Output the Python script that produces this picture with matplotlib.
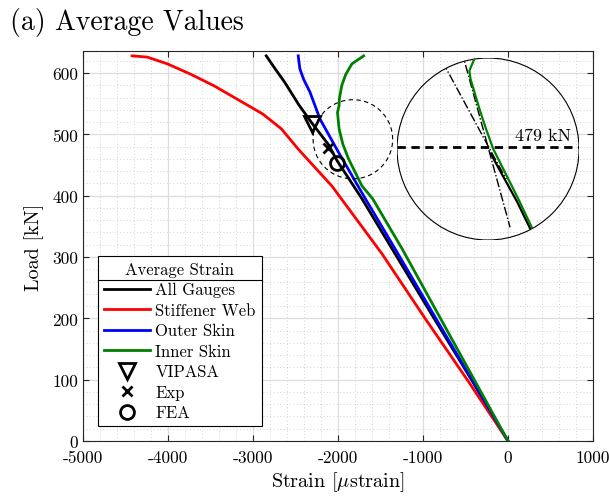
import matplotlib.pyplot as plt
import numpy as np
from matplotlib.patches import Circle, Ellipse
from matplotlib.lines import Line2D
from matplotlib.ticker import MultipleLocator

plt.rcParams.update({
    'font.family': 'serif',
    'font.serif': ['cmr10'],
    'mathtext.fontset': 'cm',
    'axes.unicode_minus': False,
    'axes.formatter.use_mathtext': True,
})

# Data (strain in microstrain, load in kN)
all_strain = [0, -430, -870, -1362, -1718, -2015, -2110, -2310, -2460, -2627, -2740, -2844]
all_load = [0, 100, 200, 313, 395, 458, 483, 519, 548, 585, 607, 628]

web_strain = [0, -470, -971, -1481, -2073, -2271, -2468, -2666, -2883, -2982, -3219,
              -3456, -3732, -4008, -4245, -4423]
web_load = [0, 98, 199, 305, 416, 446, 476, 509, 533, 541, 560, 579, 598, 615, 626, 628]

outer_strain = [0, -650, -1327, -1678, -1995, -2212, -2330, -2405, -2449, -2468]
outer_load = [0, 153, 313, 395, 471, 525, 569, 590, 607, 628]

inner_strain = [0, -620, -1244, -1592, -1718, -1876, -1943, -1987, -2006, -1987, -1984,
                -1955, -1908, -1836, -1698]
inner_load = [0, 156, 313, 395, 416, 460, 484, 509, 536, 547, 558, 580, 598, 615, 628]

vipasa = (-2310, 517)
exp_pt = (-2113, 478)
fea_pt = (-2014, 454)

# zoom circle centre / size on main axes
zoom_centre = (-1825, 492)
zoom_size = (936, 129)

# inset (normalised circle units)
inset_green_u = [-0.151, -0.205, -0.192, -0.143, -0.088, -0.022, 0.058, 0.168, 0.333, 0.498, 0.52]
inset_green_v = [0.989, 0.860, 0.769, 0.604, 0.421, 0.220, 0.0, -0.220, -0.549, -0.898, -0.95]
inset_black_u = [0.03, 0.16, 0.32, 0.48, 0.51]
inset_black_v = [-0.05, -0.29, -0.58, -0.91, -0.97]
inset_dd1_u = [-0.50, 0.019, 0.20]
inset_dd1_v = [0.96, 0.0, -0.33]
inset_dd2_u = [-0.29, 0.242]
inset_dd2_v = [1.08, -0.86]
inset_line_v = 0.025
inset_label = '479 kN'

fig = plt.figure(figsize=(6.09, 5.02), dpi=100)
ax = fig.add_axes([0.1363, 0.1195, 0.8374, 0.777])

ax.plot(all_strain, all_load, color='k', lw=2, label='All Gauges', zorder=3)
ax.plot(web_strain, web_load, color='r', lw=2, label='Stiffener Web', zorder=3)
ax.plot(outer_strain, outer_load, color='b', lw=2, label='Outer Skin', zorder=3)
ax.plot(inner_strain, inner_load, color='g', lw=2, label='Inner Skin', zorder=3)
ax.plot(*vipasa, 'v', ms=11, mfc='none', mec='k', mew=2, label='VIPASA', zorder=4)
ax.plot(*exp_pt, 'x', ms=7, color='k', mew=2, label='Exp', zorder=4)
ax.plot(*fea_pt, 'o', ms=10, mfc='none', mec='k', mew=2, label='FEA', zorder=4)

ax.add_patch(Ellipse(zoom_centre, zoom_size[0], zoom_size[1], fill=False,
                     ls=(0, (4, 3)), lw=0.8, color='k', zorder=4))

ax.set_xlim(-5000, 1000)
ax.set_ylim(0, 636)
xt = np.arange(-5000, 1001, 1000)
ax.set_xticks(xt, [str(v) for v in xt])
yt = np.arange(0, 601, 100)
ax.set_yticks(yt, [str(v) for v in yt])
ax.xaxis.set_minor_locator(MultipleLocator(200))
ax.yaxis.set_minor_locator(MultipleLocator(20))
ax.tick_params(which='major', direction='in', top=True, right=True, length=4,
               labelsize=12.5, width=0.8, color='#262626')
ax.tick_params(axis='x', pad=6)
ax.tick_params(which='minor', length=0)
ax.grid(which='major', color='#dddddd', lw=0.9)
ax.grid(which='minor', color='#c4c4c4', lw=0.6, ls=(0, (1, 3)))
ax.set_axisbelow(True)
for s in ax.spines.values():
    s.set_color('#262626')
    s.set_linewidth(0.8)

ax.set_xlabel('Strain [$\\mu$strain]', fontsize=14.5, labelpad=3)
ax.set_ylabel('Load [kN]', fontsize=14.5, labelpad=6)

fig.text(0.016, 0.955, '(a) Average Values', fontsize=20, va='center', ha='left')

leg = ax.legend(loc='lower left', bbox_to_anchor=(0.029, 0.038), title='Average Strain',
                fontsize=12, title_fontsize=12, frameon=True, fancybox=False,
                edgecolor='k', framealpha=1, handlelength=2.8, handletextpad=0.3,
                labelspacing=0.31, borderpad=0.35, borderaxespad=0)
leg.get_frame().set_linewidth(0.8)

fig.canvas.draw()
fb = leg.get_frame().get_window_extent()
tb = leg.get_title().get_window_extent()
inv = fig.transFigure.inverted()
yline = tb.y0 - 3
p0 = inv.transform((fb.x0, yline))
p1 = inv.transform((fb.x1, yline))
fig.add_artist(Line2D([p0[0], p1[0]], [p0[1], p1[1]], color='k', lw=0.8))

# circular inset
ins = fig.add_axes([0.6519, 0.5199, 0.2989, 0.3625])
ins.set_xlim(-1, 1)
ins.set_ylim(-1, 1)
ins.axis('off')
ins.patch.set_alpha(0)
circ = Circle((0, 0), 1, fill=False, lw=0.8, color='k')
ins.add_patch(circ)
clip = Circle((0, 0), 1, transform=ins.transData)
lines = []
lines += ins.plot(inset_dd1_u, inset_dd1_v, color='k', lw=1, ls='-.')
lines += ins.plot(inset_dd2_u, inset_dd2_v, color='k', lw=1, ls='-.')
lines += ins.plot(inset_black_u, inset_black_v, color='k', lw=1.6)
lines += ins.plot(inset_green_u, inset_green_v, color='g', lw=1.6)
lines += ins.plot([-1, 1], [inset_line_v, inset_line_v], color='k', lw=2, ls=(0, (3, 2)))
for ln in lines:
    ln.set_clip_path(clip)
ins.text(0.6, 0.15, inset_label, fontsize=13, ha='center', va='center')

fig.savefig('out.png', dpi=100)
